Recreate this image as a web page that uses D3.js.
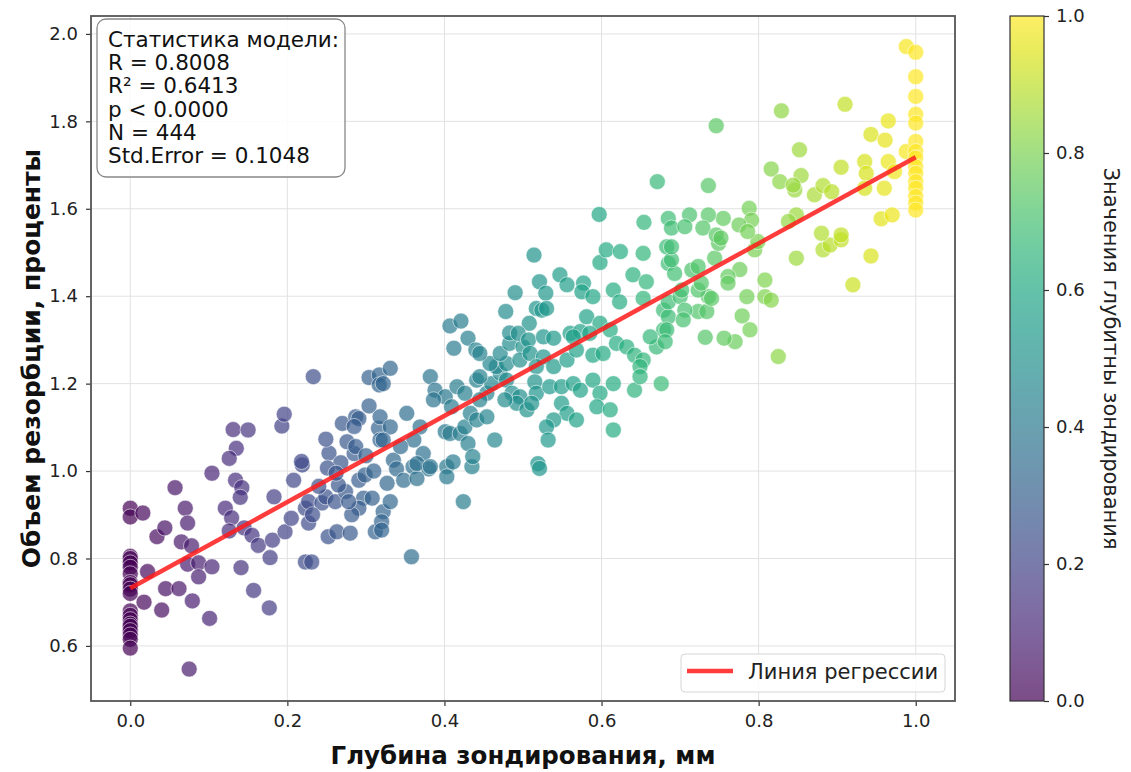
<!DOCTYPE html>
<html>
<head>
<meta charset="utf-8">
<script src="https://cdn.jsdelivr.net/npm/d3@7"></script>
<style>
  body { margin: 0; background: #fff; }
  text { font-family: "DejaVu Sans", sans-serif; }
</style>
</head>
<body>
<svg id="chart" width="1131" height="772"></svg>
<script>
// Measurements: [depth (mm), resorption volume (%)], grouped by depth band
const band0 = [
  [0,0.915],[0,0.895],[0,0.805],[0,0.80],[0,0.79],[0,0.78],[0,0.765],[0,0.745],[0,0.74],[0,0.73],
  [0,0.72],[0,0.68],[0,0.67],[0,0.66],[0,0.65],[0,0.645],[0,0.635],[0,0.625],[0,0.615],[0,0.595],
  [0.016,0.904],[0.022,0.77],[0.0175,0.70],[0.034,0.85],[0.044,0.87],[0.04,0.682],[0.045,0.731],
  [0.057,0.962],[0.062,0.731],[0.065,0.838],[0.07,0.915],[0.073,0.881],[0.078,0.829],[0.073,0.787],
  [0.087,0.79],[0.087,0.758],[0.079,0.703],[0.075,0.547],[0.101,0.663],[0.104,0.781],[0.104,0.995]
];
const band1 = [
  [0.121,0.915],[0.129,0.893],[0.126,0.863],[0.134,0.979],[0.142,0.962],[0.14,0.94],[0.145,0.87],
  [0.155,0.853],[0.163,0.83],[0.141,0.779],[0.157,0.727],[0.177,0.687],[0.181,0.842],[0.178,0.802],
  [0.183,0.941],[0.197,0.861],[0.131,1.095],[0.15,1.094],[0.135,1.052],[0.126,1.029],[0.193,1.103],
  [0.196,1.13]
];
const band2 = [
  [0.208,0.979],[0.205,0.892],[0.219,1.014],[0.223,0.915],[0.227,0.881],[0.223,0.792],[0.231,0.792],
  [0.252,0.85],[0.263,0.861],[0.28,0.858],[0.218,1.022],[0.253,1.041],[0.268,1.019],[0.251,1.007],
  [0.285,1.04],[0.227,0.93],[0.244,0.927],[0.249,0.941],[0.261,0.93],[0.274,0.953],[0.265,0.968],
  [0.291,0.979],[0.299,0.991],[0.297,0.938],[0.308,0.938],[0.291,0.915],[0.312,0.861],[0.282,0.9],
  [0.232,0.9],[0.278,0.93],[0.322,0.907],[0.32,0.884],[0.32,0.865],[0.331,0.93],[0.327,0.972],
  [0.233,1.216],[0.249,1.073],[0.27,1.109],[0.287,1.124],[0.291,1.12],[0.304,1.149],[0.285,1.102],
  [0.276,1.067],[0.287,1.056],[0.304,1.214],[0.317,1.22],[0.317,1.197],[0.316,1.098],[0.318,1.071],
  [0.331,1.235],[0.322,1.2],[0.318,1.124],[0.331,1.101],[0.322,1.071],[0.335,1.025],
  [0.262,0.995],[0.3,1.035],[0.31,1.0],[0.24,0.965]
];
const band3 = [
  [0.339,1.005],[0.36,1.01],[0.38,1.005],[0.403,1.01],[0.435,1.01],[0.403,0.987],[0.348,0.979],
  [0.365,0.983],[0.424,0.93],[0.358,0.804],[0.352,1.132],[0.369,1.101],[0.361,1.071],[0.344,1.056],
  [0.373,1.04],[0.365,1.017],[0.382,1.01],[0.401,1.09],[0.407,1.086],[0.42,1.086],[0.426,1.101],
  [0.43,1.063],[0.436,1.033],[0.411,1.021],[0.433,1.132],[0.441,1.117],[0.454,1.124],[0.464,1.071],
  [0.382,1.216],[0.388,1.185],[0.401,1.17],[0.386,1.163],[0.416,1.193],[0.426,1.178],[0.409,1.147],
  [0.441,1.208],[0.454,1.178],[0.46,1.2],[0.445,1.163],[0.471,1.224],[0.479,1.208],[0.486,1.178],
  [0.496,1.17],[0.492,1.155],[0.505,1.14],[0.477,1.163],[0.445,1.216],[0.466,1.239],[0.479,1.246],
  [0.458,1.246],[0.407,1.332],[0.421,1.343],[0.43,1.304],[0.412,1.281],[0.44,1.277],[0.445,1.269],
  [0.471,1.269],[0.483,1.292],[0.5,1.284],[0.496,1.254],[0.478,1.365],[0.49,1.408]
];
const band4 = [
  [0.514,1.494],[0.521,1.433],[0.547,1.449],[0.556,1.426],[0.529,1.407],[0.577,1.43],[0.575,1.41],
  [0.589,1.399],[0.517,1.372],[0.524,1.368],[0.53,1.372],[0.508,1.338],[0.483,1.316],[0.494,1.315],
  [0.507,1.3],[0.526,1.307],[0.539,1.304],[0.56,1.315],[0.573,1.319],[0.564,1.307],[0.581,1.353],
  [0.598,1.338],[0.585,1.315],[0.589,1.265],[0.509,1.269],[0.526,1.261],[0.539,1.239],[0.517,1.239],
  [0.556,1.254],[0.568,1.277],[0.515,1.204],[0.517,1.178],[0.511,1.155],[0.534,1.193],[0.549,1.193],
  [0.564,1.2],[0.573,1.185],[0.549,1.155],[0.556,1.132],[0.539,1.117],[0.568,1.117],[0.53,1.101],
  [0.532,1.071],[0.519,1.017],[0.521,1.006],[0.589,1.208],[0.598,1.178],[0.594,1.147],[0.597,1.587],
  [0.598,1.477]
];
const band5 = [
  [0.606,1.506],[0.624,1.502],[0.653,1.498],[0.683,1.513],[0.685,1.475],[0.615,1.414],[0.623,1.387],
  [0.64,1.449],[0.657,1.433],[0.653,1.395],[0.679,1.368],[0.611,1.323],[0.602,1.269],[0.619,1.292],
  [0.632,1.284],[0.642,1.265],[0.653,1.254],[0.649,1.239],[0.67,1.284],[0.679,1.323],[0.662,1.307],
  [0.615,1.2],[0.611,1.14],[0.642,1.185],[0.649,1.216],[0.676,1.2],[0.615,1.094],[0.671,1.662],
  [0.654,1.569],[0.685,1.578],[0.689,1.556],[0.685,1.353],[0.683,1.323],[0.681,1.296],[0.685,1.387],
  [0.693,1.452],[0.689,1.483],[0.689,1.513]
];
const band6 = [
  [0.7,1.399],[0.702,1.414],[0.723,1.365],[0.734,1.365],[0.706,1.368],[0.704,1.346],[0.736,1.399],
  [0.74,1.395],[0.723,1.414],[0.727,1.43],[0.715,1.46],[0.723,1.468],[0.744,1.487],[0.749,1.521],
  [0.776,1.461],[0.761,1.445],[0.761,1.43],[0.785,1.399],[0.779,1.355],[0.789,1.323],[0.77,1.296],
  [0.756,1.304],[0.732,1.306],[0.795,1.506],[0.799,1.525],[0.746,1.79],[0.736,1.653],[0.788,1.601],
  [0.791,1.574],[0.775,1.563],[0.755,1.578],[0.736,1.586],[0.712,1.586],[0.706,1.559],[0.729,1.556],
  [0.746,1.54],[0.752,1.533],[0.786,1.548]
];
const band7 = [
  [0.808,1.437],[0.808,1.399],[0.816,1.391],[0.825,1.262],[0.848,1.487],[0.882,1.506],[0.891,1.517],
  [0.829,1.824],[0.852,1.735],[0.816,1.691],[0.854,1.676],[0.827,1.662],[0.846,1.643],[0.844,1.654],
  [0.871,1.632],[0.882,1.653],[0.893,1.639],[0.88,1.544],[0.848,1.586],[0.838,1.571]
];
const band8 = [
  [0.905,1.529],[0.943,1.492],[0.92,1.426],[0.91,1.839],[0.988,1.971],[0.965,1.801],[0.943,1.77],
  [0.961,1.757],[0.988,1.731],[0.905,1.695],[0.935,1.708],[0.937,1.681],[0.965,1.708],[0.973,1.685],
  [0.935,1.647],[0.96,1.647],[0.956,1.577],[0.97,1.586],[0.905,1.54],
  [1,1.958],[1,1.902],[1,1.857],[1,1.816],[1,1.796],[1,1.754],[1,1.731],[1,1.716],[1,1.696],
  [1,1.681],[1,1.662],[1,1.647],[1,1.628],[1,1.613],[1,1.597]
];

// Least-squares line and summary statistics
const fitIntercept = 0.732;
const fitSlope = 0.986;
const statLines = ["Статистика модели:", "R = 0.8008", "R² = 0.6413", "p < 0.0000", "N = 444", "Std.Error = 0.1048"];

const xTicks = [0, 0.2, 0.4, 0.6, 0.8, 1.0];
const yTicks = [0.6, 0.8, 1.0, 1.2, 1.4, 1.6, 1.8, 2.0];
const cbTicks = [0, 0.2, 0.4, 0.6, 0.8, 1.0];

const xLabel = "Глубина зондирования, мм";
const yLabel = "Объем резорбции, проценты";
const cbLabel = "Значения глубитны зондирования";
const legendLabel = "Линия регрессии";

const points = [].concat(band0, band1, band2, band3, band4, band5, band6, band7, band8);

const svg = d3.select("#chart");
const plot = { left: 91, right: 955, top: 16, bottom: 701 };

const x = d3.scaleLinear().domain([-0.05, 1.05]).range([plot.left, plot.right]);
const y = d3.scaleLinear().domain([0.474, 2.041]).range([plot.bottom, plot.top]);
const color = d3.scaleSequential(d3.interpolateViridis).domain([0, 1]);

svg.append("rect").attr("width", 1131).attr("height", 772).attr("fill", "#fff");

// grid
const grid = svg.append("g");
grid.selectAll(".gx").data(xTicks).join("line")
  .attr("x1", d => x(d)).attr("x2", d => x(d))
  .attr("y1", plot.top).attr("y2", plot.bottom)
  .attr("stroke", "#e2e2e2").attr("stroke-width", 1);
grid.selectAll(".gy").data(yTicks).join("line")
  .attr("x1", plot.left).attr("x2", plot.right)
  .attr("y1", d => y(d)).attr("y2", d => y(d))
  .attr("stroke", "#e2e2e2").attr("stroke-width", 1);

// clip
svg.append("clipPath").attr("id", "plotClip").append("rect")
  .attr("x", plot.left).attr("y", plot.top)
  .attr("width", plot.right - plot.left).attr("height", plot.bottom - plot.top);

const body = svg.append("g").attr("clip-path", "url(#plotClip)");

body.selectAll("circle").data(points).join("circle")
  .attr("cx", d => x(d[0])).attr("cy", d => y(d[1]))
  .attr("r", 8)
  .attr("fill", d => color(d[0]))
  .attr("fill-opacity", 0.7)
  .attr("stroke", "#fff").attr("stroke-opacity", 0.7).attr("stroke-width", 0.8);

// regression line
const fitX = [0, 1];
body.append("line")
  .attr("x1", x(fitX[0])).attr("y1", y(fitIntercept + fitSlope * fitX[0]))
  .attr("x2", x(fitX[1])).attr("y2", y(fitIntercept + fitSlope * fitX[1]))
  .attr("stroke", "#ff1a1a").attr("stroke-opacity", 0.85).attr("stroke-width", 4.5);

// axes
const xAxis = svg.append("g").attr("transform", `translate(0,${plot.bottom})`)
  .call(d3.axisBottom(x).tickValues(xTicks).tickFormat(d3.format(".1f")).tickSize(5).tickPadding(8));
const yAxis = svg.append("g").attr("transform", `translate(${plot.left},0)`)
  .call(d3.axisLeft(y).tickValues(yTicks).tickFormat(d3.format(".1f")).tickSize(5).tickPadding(8));
[xAxis, yAxis].forEach(g => {
  g.select(".domain").remove();
  g.selectAll(".tick line").attr("stroke", "#333").attr("stroke-width", 1.2);
  g.selectAll(".tick text").attr("fill", "#222").style("font-size", "18px")
    .style("font-family", "'DejaVu Sans', sans-serif");
});

// frame
svg.append("rect")
  .attr("x", plot.left).attr("y", plot.top)
  .attr("width", plot.right - plot.left).attr("height", plot.bottom - plot.top)
  .attr("fill", "none").attr("stroke", "#555").attr("stroke-width", 1.8);

// axis titles
svg.append("text")
  .attr("x", (plot.left + plot.right) / 2).attr("y", 764)
  .attr("text-anchor", "middle").attr("font-weight", "bold").attr("font-size", 24.5)
  .attr("fill", "#111").text(xLabel);
svg.append("text")
  .attr("transform", `translate(40,${(plot.top + plot.bottom) / 2}) rotate(-90)`)
  .attr("text-anchor", "middle").attr("font-weight", "bold").attr("font-size", 25)
  .attr("fill", "#111").text(yLabel);

// stats box
const statBox = svg.append("g");
statBox.append("rect")
  .attr("x", 97).attr("y", 19).attr("width", 248).attr("height", 158)
  .attr("rx", 9).attr("ry", 9)
  .attr("fill", "#fff").attr("fill-opacity", 0.85)
  .attr("stroke", "#888").attr("stroke-width", 1.3);
statBox.selectAll("text").data(statLines).join("text")
  .attr("x", 108).attr("y", (d, i) => 47 + i * 23.2)
  .attr("font-size", 21.5).attr("fill", "#111").text(d => d);

// legend
const legend = svg.append("g");
legend.append("rect")
  .attr("x", 681).attr("y", 654).attr("width", 264).attr("height", 38)
  .attr("rx", 4).attr("fill", "#fff").attr("fill-opacity", 0.85)
  .attr("stroke", "#d6d6d6").attr("stroke-width", 1);
legend.append("line")
  .attr("x1", 687).attr("x2", 733).attr("y1", 671).attr("y2", 671)
  .attr("stroke", "#ff1a1a").attr("stroke-opacity", 0.85).attr("stroke-width", 4.5);
legend.append("text").attr("x", 748).attr("y", 679)
  .attr("font-size", 21).attr("fill", "#222").text(legendLabel);

// colorbar
const cb = { left: 1010, width: 34, top: plot.top, bottom: plot.bottom };
const cbScale = d3.scaleLinear().domain([0, 1]).range([cb.bottom, cb.top]);
const defs = svg.append("defs");
const grad = defs.append("linearGradient").attr("id", "viridisGrad")
  .attr("x1", 0).attr("y1", 1).attr("x2", 0).attr("y2", 0);
d3.range(0, 1.0001, 0.05).forEach(t => {
  grad.append("stop").attr("offset", t).attr("stop-color", color(t));
});
svg.append("rect")
  .attr("x", cb.left).attr("y", cb.top).attr("width", cb.width).attr("height", cb.bottom - cb.top)
  .attr("fill", "url(#viridisGrad)").attr("fill-opacity", 0.7);
svg.append("rect")
  .attr("x", cb.left).attr("y", cb.top).attr("width", cb.width).attr("height", cb.bottom - cb.top)
  .attr("fill", "none").attr("stroke", "#333").attr("stroke-width", 1.2);
const cbAxis = svg.append("g").attr("transform", `translate(${cb.left + cb.width},0)`)
  .call(d3.axisRight(cbScale).tickValues(cbTicks).tickFormat(d3.format(".1f")).tickSize(5).tickPadding(7));
cbAxis.select(".domain").remove();
cbAxis.selectAll(".tick line").attr("stroke", "#333").attr("stroke-width", 1.2);
cbAxis.selectAll(".tick text").attr("fill", "#222").style("font-size", "18px")
  .style("font-family", "'DejaVu Sans', sans-serif");
svg.append("text")
  .attr("transform", `translate(1104,${(cb.top + cb.bottom) / 2}) rotate(90)`)
  .attr("text-anchor", "middle").attr("font-size", 21).attr("fill", "#222").text(cbLabel);
</script>
</body>
</html>
